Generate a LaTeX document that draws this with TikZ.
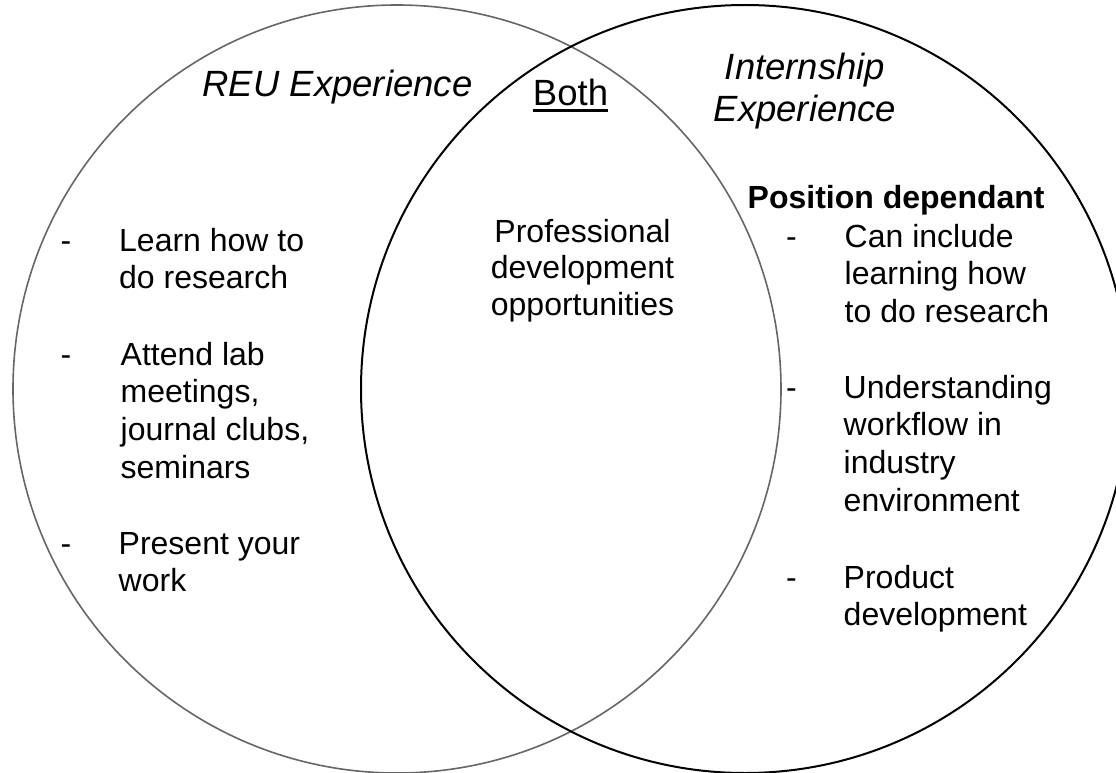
\documentclass[tikz,border=0pt]{standalone}
\usepackage{fontspec}
\setmainfont{Liberation Sans}
\definecolor{leftring}{HTML}{666666}
\begin{document}
\begin{tikzpicture}[x=1pt,y=-1pt,
  body/.style={font=\fontsize{32}{37.9}\selectfont, inner sep=0pt, align=left, anchor=base west},
  dashmark/.style={font=\fontsize{32}{37.9}\selectfont, inner sep=0pt, anchor=base west},
  titletext/.style={font=\fontsize{36.5}{42}\selectfont, inner sep=0pt, anchor=base, align=center},
  centretext/.style={font=\fontsize{32}{36.5}\selectfont, inner sep=0pt, anchor=base, align=center},
  ring/.style={line width=1.6pt}]
\useasboundingbox (0,0) rectangle (1116,773);
\clip (0,0) rectangle (1116,773);
\fill[white] (0,0) rectangle (1116,773);
% circles
\draw[ring, draw=leftring] (397,389) circle[radius=384];
\draw[ring, line width=2pt, draw=black] (745,389) circle[radius=384];
% titles (base anchor = baseline of last line)
\node[titletext] (reu) at (337.5,97) {\itshape REU Experience};
\node[titletext] (both) at (570.5,106) {Both};
\draw[line width=2.6pt] ([yshift=-4.5pt]both.base west) -- ([yshift=-4.5pt]both.base east);
\node[titletext] (intern) at (805,122) {\itshape Internship\\\itshape Experience};
% both
\node[centretext] (prof) at (582.5,315) {Professional\\development\\opportunities};
% left list
\node[dashmark] (d1) at (60.5,251) {-};
\node[body] (l1) at (119,288.9) {Learn how to\\do research};
\node[dashmark] (d2) at (60.5,365) {-};
\node[body] (l2) at (120.5,478.7) {Attend lab\\meetings,\\journal clubs,\\seminars};
\node[dashmark] (d3) at (60.5,554) {-};
\node[body] (l3) at (118.5,591.9) {Present your\\work};
% right list
\node[font=\bfseries\fontsize{32}{37.9}\selectfont, inner sep=0pt, anchor=base west] (pos) at (747.5,208) {Position dependant};
\node[dashmark] (r1d) at (786,247) {-};
\node[body] (r1) at (844.5,322.8) {Can include\\learning how\\to do research};
\node[dashmark] (r2d) at (786,398) {-};
\node[body] (r2) at (843.5,511.7) {Understanding\\workflow in\\industry\\environment};
\node[dashmark] (r3d) at (786,588) {-};
\node[body] (r3) at (843.5,625.9) {Product\\development};
\end{tikzpicture}
\end{document}
